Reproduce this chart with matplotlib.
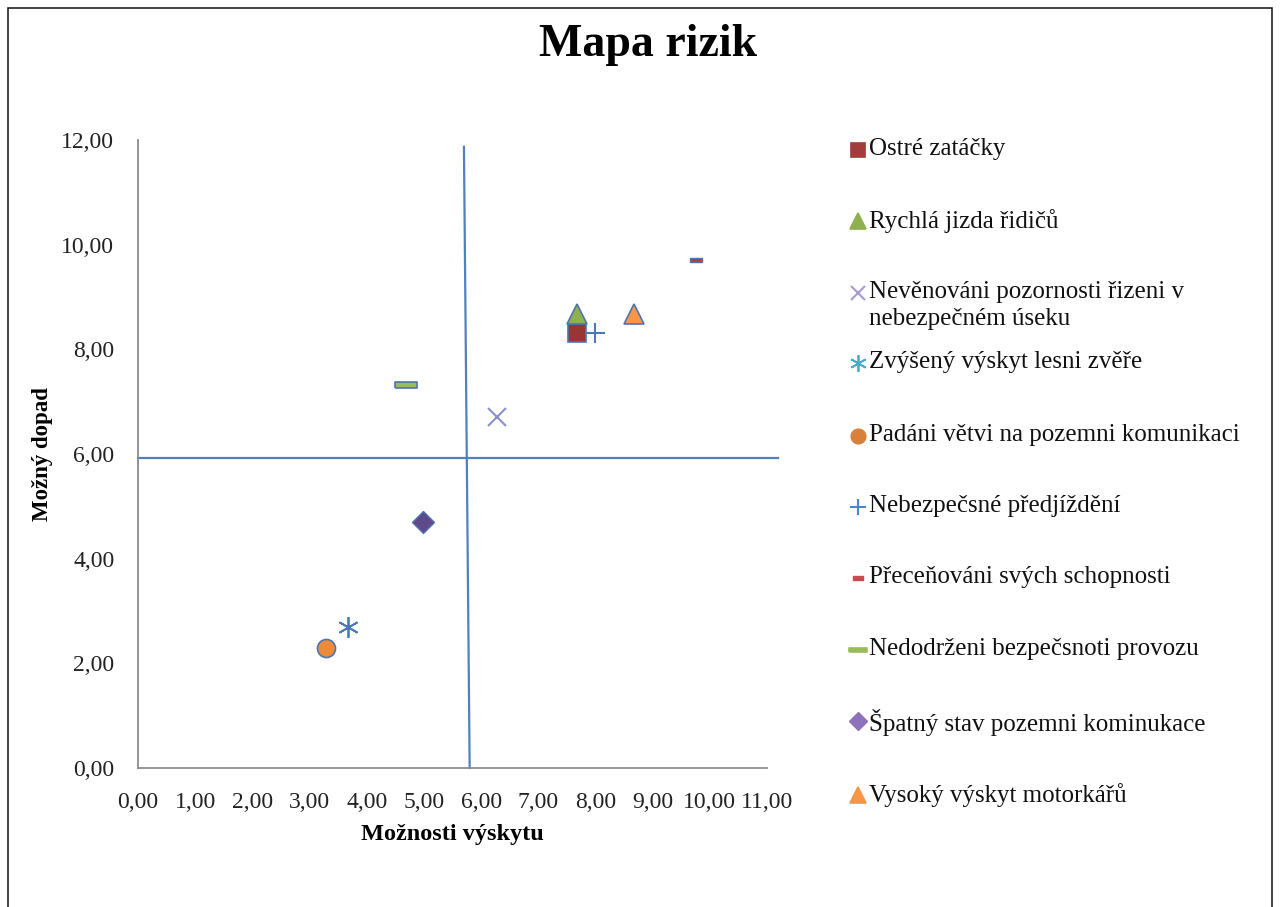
import matplotlib
matplotlib.use('Agg')
import matplotlib.pyplot as plt
from matplotlib.lines import Line2D
from matplotlib.patches import Rectangle

plt.rcParams['font.family'] = ['Liberation Serif', 'DejaVu Serif']

labels = ['Ostré zatáčky',
          'Rychlá jizda řidičů',
          'Nevěnováni pozornosti řizeni v\nnebezpečném úseku',
          'Zvýšený výskyt lesni zvěře',
          'Padáni větvi na pozemni komunikaci',
          'Nebezpečsné předjíždění',
          'Přeceňováni svých schopnosti',
          'Nedodrženi bezpečsnoti provozu',
          'Špatný stav pozemni kominukace',
          'Vysoký výskyt motorkářů']
x_vals = [7.67, 7.67, 6.28, 3.68, 3.29, 8.0, 9.75, 4.68, 4.98, 8.68]
y_vals = [8.32, 8.68, 6.7, 2.69, 2.3, 8.32, 9.7, 7.32, 4.7, 8.68]

# quadrant divider lines (drawn shapes in the original)
vline_x = [5.70, 5.80]
vline_y = [11.87, 0.0]
hline_x = [0.0, 11.2]
hline_y = [5.93, 5.93]

dash_small = [(-1, -0.35), (1, -0.35), (1, 0.35), (-1, 0.35), (-1, -0.35)]
dash_wide = [(-1, -0.25), (1, -0.25), (1, 0.25), (-1, 0.25), (-1, -0.25)]
edge = '#4F74AE'
styles = [
    dict(marker='s', ms=13, mfc='#953735', mec=edge, mew=1.2),
    dict(marker='^', ms=14, mfc='#8EB04F', mec=edge, mew=1.2),
    dict(marker='x', ms=13, mfc='none', mec='#8A92C8', mew=1.5),
    dict(marker=(6, 2, 0), ms=15, mfc='none', mec='#4A78B8', mew=1.3),
    dict(marker='o', ms=13, mfc='#EE8B3A', mec=edge, mew=1.2),
    dict(marker='+', ms=15, mfc='none', mec='#4A78B8', mew=1.5),
    dict(marker=dash_small, ms=9, mfc='#C0392B', mec=edge, mew=1.0),
    dict(marker=dash_wide, ms=16, mfc='#9BBB59', mec=edge, mew=1.2),
    dict(marker='D', ms=11, mfc='#5E4A8A', mec=edge, mew=1.0),
    dict(marker='^', ms=14, mfc='#F79646', mec=edge, mew=1.2),
]
legend_colors = ['#A33D3B', '#8EB04F', '#A69AD0', '#4BACC6', '#D9803A',
                 '#4A86D0', '#C0504D', '#9BBB59', '#8D72BA', '#F79646']

fig = plt.figure(figsize=(12.8, 9.07), dpi=100)
ax = fig.add_axes([138 / 1280, 1 - 768 / 907, (767 - 138) / 1280, (768 - 140) / 907])

for xv, yv, st in zip(x_vals, y_vals, styles):
    ax.plot([xv], [yv], linestyle='none', zorder=3, **st)

ax.plot(vline_x, vline_y, color='#4F81BD', lw=1.6, clip_on=False, zorder=2)
ax.plot(hline_x, hline_y, color='#4F81BD', lw=1.6, clip_on=False, zorder=2)

ax.set_xlim(0, 11)
ax.set_ylim(0, 12)
ax.set_xticks(range(0, 12))
ax.set_yticks(range(0, 13, 2))
ax.set_xticklabels(['%d,00' % v for v in range(0, 12)])
ax.set_yticklabels(['%d,00' % v for v in range(0, 13, 2)])
ax.tick_params(length=0, labelsize=17, colors='#222222')
ax.tick_params(axis='x', pad=17)
ax.tick_params(axis='y', pad=17)
for s in ['top', 'right']:
    ax.spines[s].set_visible(False)
for s in ['left', 'bottom']:
    ax.spines[s].set_color('#8C8C8C')
    ax.spines[s].set_linewidth(1.3)

ax.set_xlabel('Možnosti výskytu', fontsize=17.5, fontweight='bold', labelpad=8)
ax.set_ylabel('Možný dopad', fontsize=16.5, fontweight='bold', labelpad=6)

fig.text(0.506, 1 - 45 / 907, 'Mapa rizik', fontsize=33, fontweight='bold',
         ha='center', va='center')

# legend on the right
leg_y = [150, 221, 293, 363, 436, 507, 578, 650, 721, 795]
for i, lab in enumerate(labels):
    st = dict(styles[i])
    st['ms'] = st['ms'] * 0.8
    st['mfc'] = legend_colors[i] if st['mfc'] != 'none' else 'none'
    st['mec'] = legend_colors[i]
    fy = 1 - leg_y[i] / 907
    fig.add_artist(Line2D([858 / 1280], [fy], transform=fig.transFigure,
                          linestyle='none', **st))
    fig.text(869 / 1280, fy + 12 / 907, lab, fontsize=18, va='top', ha='left',
             linespacing=1.3, color='#111111')

fig.add_artist(Rectangle((8 / 1280, -0.01), 1264 / 1280, 1.01 - 8 / 907,
                         transform=fig.transFigure, fill=False,
                         edgecolor='#222222', lw=1.2))

fig.savefig('out.png', dpi=100)
